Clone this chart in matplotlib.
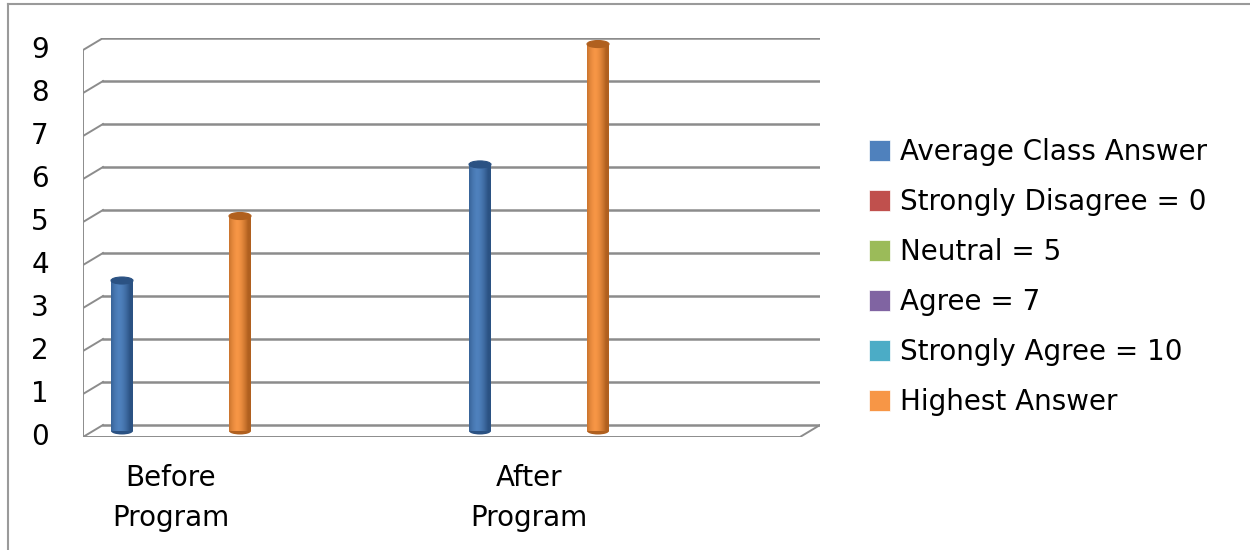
import numpy as np
import matplotlib
matplotlib.use('Agg')
import matplotlib.pyplot as plt
from matplotlib.patches import Rectangle, Ellipse, Patch
from matplotlib.colors import to_rgb

# datos
categorias = ['Before\nProgram', 'After\nProgram']
promedio_clase = [3.5, 6.2]
respuesta_max = [5, 9]
series = ['Average Class Answer', 'Strongly Disagree = 0', 'Neutral = 5',
          'Agree = 7', 'Strongly Agree = 10', 'Highest Answer']
colores = ['#4F81BD', '#C0504D', '#9BBB59', '#8064A2', '#4BACC6', '#F79646']
oscuros = ['#2B5283', '#8C2F2C', '#6E8A3A', '#5A4478', '#2E7F96', '#B0601F']
ticks_y = list(range(10))

plt.rcParams['font.family'] = ['DejaVu Sans']
FS = 20

fig = plt.figure(figsize=(12.5, 5.5), dpi=100)
ax = fig.add_axes([83 / 1250, 113 / 550, 737 / 1250, 399 / 550])
ax.axis('off')

# escala: 358 px por categoria, 43 px por unidad
x_izq = -88 / 358
x_der = 1 + 271 / 358
dx = 20 / 358
dy = 12 / 43
gris = '#8C8C8C'

for v in ticks_y:
    ax.plot([x_izq, x_izq + dx], [v, v + dy], color=gris, lw=1.4, zorder=1)
    ax.plot([x_izq + dx, x_der + dx], [v + dy, v + dy], color=gris, lw=1.8, zorder=1)
    ax.annotate(str(v), xy=(x_izq, v), xytext=(-43, 0), textcoords='offset pixels',
                ha='center', va='center', fontsize=FS)
ax.plot([x_izq, x_izq], [0, 9], color=gris, lw=1.4, zorder=1)
ax.plot([x_izq, x_der, x_der + dx], [0, 0, dy], color=gris, lw=1.4, zorder=1)

ancho = 22 / 358
paso = 23.6 / 358
eh = 7 / 43
base = dy / 2


def cilindro(xc, valor, color, oscuro):
    c1 = np.array(to_rgb(color))
    c2 = np.array(to_rgb(oscuro))
    t = np.linspace(-1, 1, 60)
    k = np.clip(np.abs(t + 0.25) ** 1.6, 0, 1)
    grad = (c1[None, :] * (1 - k[:, None]) + c2[None, :] * k[:, None])[None, :, :]
    rect = Rectangle((xc - ancho / 2, base), ancho, valor, transform=ax.transData)
    ax.add_patch(Ellipse((xc, base), ancho, eh, facecolor=oscuro, zorder=2))
    im = ax.imshow(grad, extent=[xc - ancho / 2, xc + ancho / 2, base, base + valor],
                   aspect='auto', zorder=3)
    im.set_clip_path(rect)
    ax.add_patch(Ellipse((xc, base + valor), ancho, eh, facecolor=oscuro,
                         edgecolor=oscuro, lw=0.8, zorder=4))


for i, cat in enumerate(categorias):
    cx = i + dx / 2
    cilindro(cx + (0 - 2.5) * paso, promedio_clase[i], colores[0], oscuros[0])
    cilindro(cx + (5 - 2.5) * paso, respuesta_max[i], colores[5], oscuros[5])
    ax.annotate(cat, xy=(i, 0), xytext=(0, -61), textcoords='offset pixels',
                ha='center', va='center', fontsize=FS, linespacing=1.5)

ax.set_xlim(x_izq, x_der + dx)
ax.set_ylim(0, 9.28)

handles = [Patch(facecolor=c, edgecolor='white', lw=0.5) for c in colores]
fig.legend(handles, series, loc='center left', bbox_to_anchor=(855 / 1250, 0.496),
           frameon=False, fontsize=FS, handlelength=0.75, handleheight=0.75,
           handletextpad=0.36, labelspacing=0.79, borderpad=0)

# marco exterior
fig.add_artist(plt.Line2D([8 / 1250, 8 / 1250], [0, 1 - 4 / 550], color='#9A9A9A', lw=1.5))
fig.add_artist(plt.Line2D([8 / 1250, 1], [1 - 4 / 550, 1 - 4 / 550], color='#9A9A9A', lw=1.5))

fig.savefig('out.png', dpi=100)
